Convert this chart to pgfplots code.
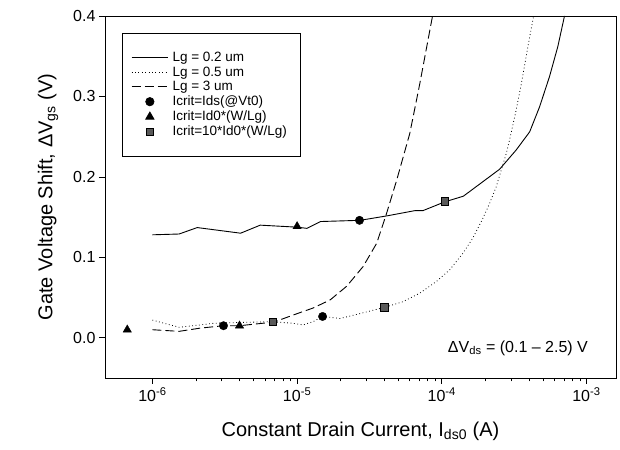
\documentclass[border=0pt]{standalone}
\usepackage{fontspec}
\setmainfont{Liberation Sans}
\usepackage{pgfplots}
\pgfplotsset{compat=1.18}
\begin{document}
\begin{tikzpicture}
\begin{axis}[
  name=ax,
  scale only axis, width=511pt, height=362pt,
  xmode=log, xmin=4.7e-7, xmax=1.6e-3,
  ymin=-0.05, ymax=0.4,
  ytick={0,0.1,0.2,0.3,0.4}, yticklabels={0.0,0.1,0.2,0.3,0.4},
  xtick={1e-6,1e-5,1e-4,1e-3},
  xticklabels={10\textsuperscript{-6},10\textsuperscript{-5},10\textsuperscript{-4},10\textsuperscript{-3}},
  tick pos=left, tick align=outside,
  major tick length=6pt, minor tick length=3.5pt,
  every tick/.style={black, line width=0.6pt},
  axis line style={line width=0.7pt},
  ticklabel style={font=\fontsize{16}{18}\selectfont},
  label style={font=\fontsize{20}{24}\selectfont},
  xlabel={Constant Drain Current, I\textsubscript{ds0} (A)},
  ylabel={Gate Voltage Shift, ΔV\textsubscript{gs} (V)},
  xlabel shift=13pt, ylabel shift=8pt,
  legend cell align=left,
  legend image code/.code={\draw[mark repeat=2,mark phase=2] plot coordinates {(0cm,0cm) (0.64cm,0cm) (1.28cm,0cm)};},
  legend style={at={(rel axis cs:0.033,0.953)}, anchor=north west, draw=black, line width=0.7pt,
    font=\fontsize{13.5}{14}\selectfont, inner xsep=9pt, inner ysep=17pt, row sep=0.8pt,
    nodes={inner ysep=1.5pt, inner xsep=4pt}},
]
\addplot[black, line width=0.9pt] coordinates {
(1.0e-6,0.128) (1.53e-6,0.129) (2.04e-6,0.137) (4.07e-6,0.130) (5.56e-6,0.140)
(1.0e-5,0.1375) (1.17e-5,0.136) (1.45e-5,0.1445) (2.72e-5,0.146) (4.17e-5,0.1515)
(6.5e-5,0.158) (7.4e-5,0.158) (1.05e-4,0.169) (1.41e-4,0.176) (2.51e-4,0.2095)
(3.27e-4,0.2335) (4.05e-4,0.256) (4.74e-4,0.287) (5.56e-4,0.325) (6.34e-4,0.362) (7.05e-4,0.40)};
\addlegendentry{Lg = 0.2 um}
\addplot[black, line width=0.8pt, dash pattern=on 0.8pt off 2.6pt] coordinates {
(1.0e-6,0.022) (1.53e-6,0.013) (2.65e-6,0.018) (4.0e-6,0.019) (6.7e-6,0.020)
(9.4e-6,0.018) (1.1e-5,0.016) (1.29e-5,0.020) (1.5e-5,0.0265) (1.98e-5,0.024)
(2.58e-5,0.029) (4.05e-5,0.038) (5.41e-5,0.045) (7.05e-5,0.0555) (9.18e-5,0.070)
(1.135e-4,0.0845) (1.40e-4,0.105) (1.64e-4,0.124) (1.93e-4,0.149) (2.14e-4,0.167)
(2.38e-4,0.188) (2.58e-4,0.209) (2.79e-4,0.229) (2.94e-4,0.246) (3.24e-4,0.28)
(3.55e-4,0.316) (3.92e-4,0.36) (4.31e-4,0.40)};
\addlegendentry{Lg = 0.5 um}
\addplot[black, line width=0.9pt, dash pattern=on 9pt off 4pt] coordinates {
(1.0e-6,0.010) (1.53e-6,0.008) (2.14e-6,0.012) (3.1e-6,0.015) (4.0e-6,0.015)
(6.9e-6,0.0195) (1.0e-5,0.030) (1.29e-5,0.037) (1.69e-5,0.047) (2.2e-5,0.064)
(2.86e-5,0.0886) (3.55e-5,0.1175) (4.16e-5,0.155) (4.88e-5,0.196) (6.01e-5,0.254)
(7.05e-5,0.316) (8.63e-5,0.40)};
\addlegendentry{Lg = 3 um}
\addplot[only marks, mark=*, mark size=4.2pt, black] coordinates {
(3.1e-6,0.015) (1.5e-5,0.0265) (2.7e-5,0.146)};
\addlegendentry{Icrit=Ids(@Vt0)}
\addplot[only marks, mark=triangle*, mark size=4.8pt, black] coordinates {
(6.7e-7,0.010) (4.0e-6,0.015) (1.0e-5,0.1385)};
\addlegendentry{Icrit=Id0*(W/Lg)}
\addplot[only marks, mark=square*, mark size=3.8pt, draw=black, fill=black!65] coordinates {
(6.8e-6,0.020) (4.0e-5,0.038) (1.05e-4,0.170)};
\addlegendentry{Icrit=10*Id0*(W/Lg)\hspace{6pt}}
\node[anchor=east, font=\fontsize{16}{18}\selectfont] at (rel axis cs:0.952,0.083) {ΔV\textsubscript{ds} = (0.1 – 2.5) V};
\end{axis}
\path (ax.south west) ++(-105pt,-72pt) coordinate (bl);
\path (ax.north east) ++(4pt,16pt) coordinate (tr);
\path (bl) rectangle (tr);
\end{tikzpicture}
\end{document}
